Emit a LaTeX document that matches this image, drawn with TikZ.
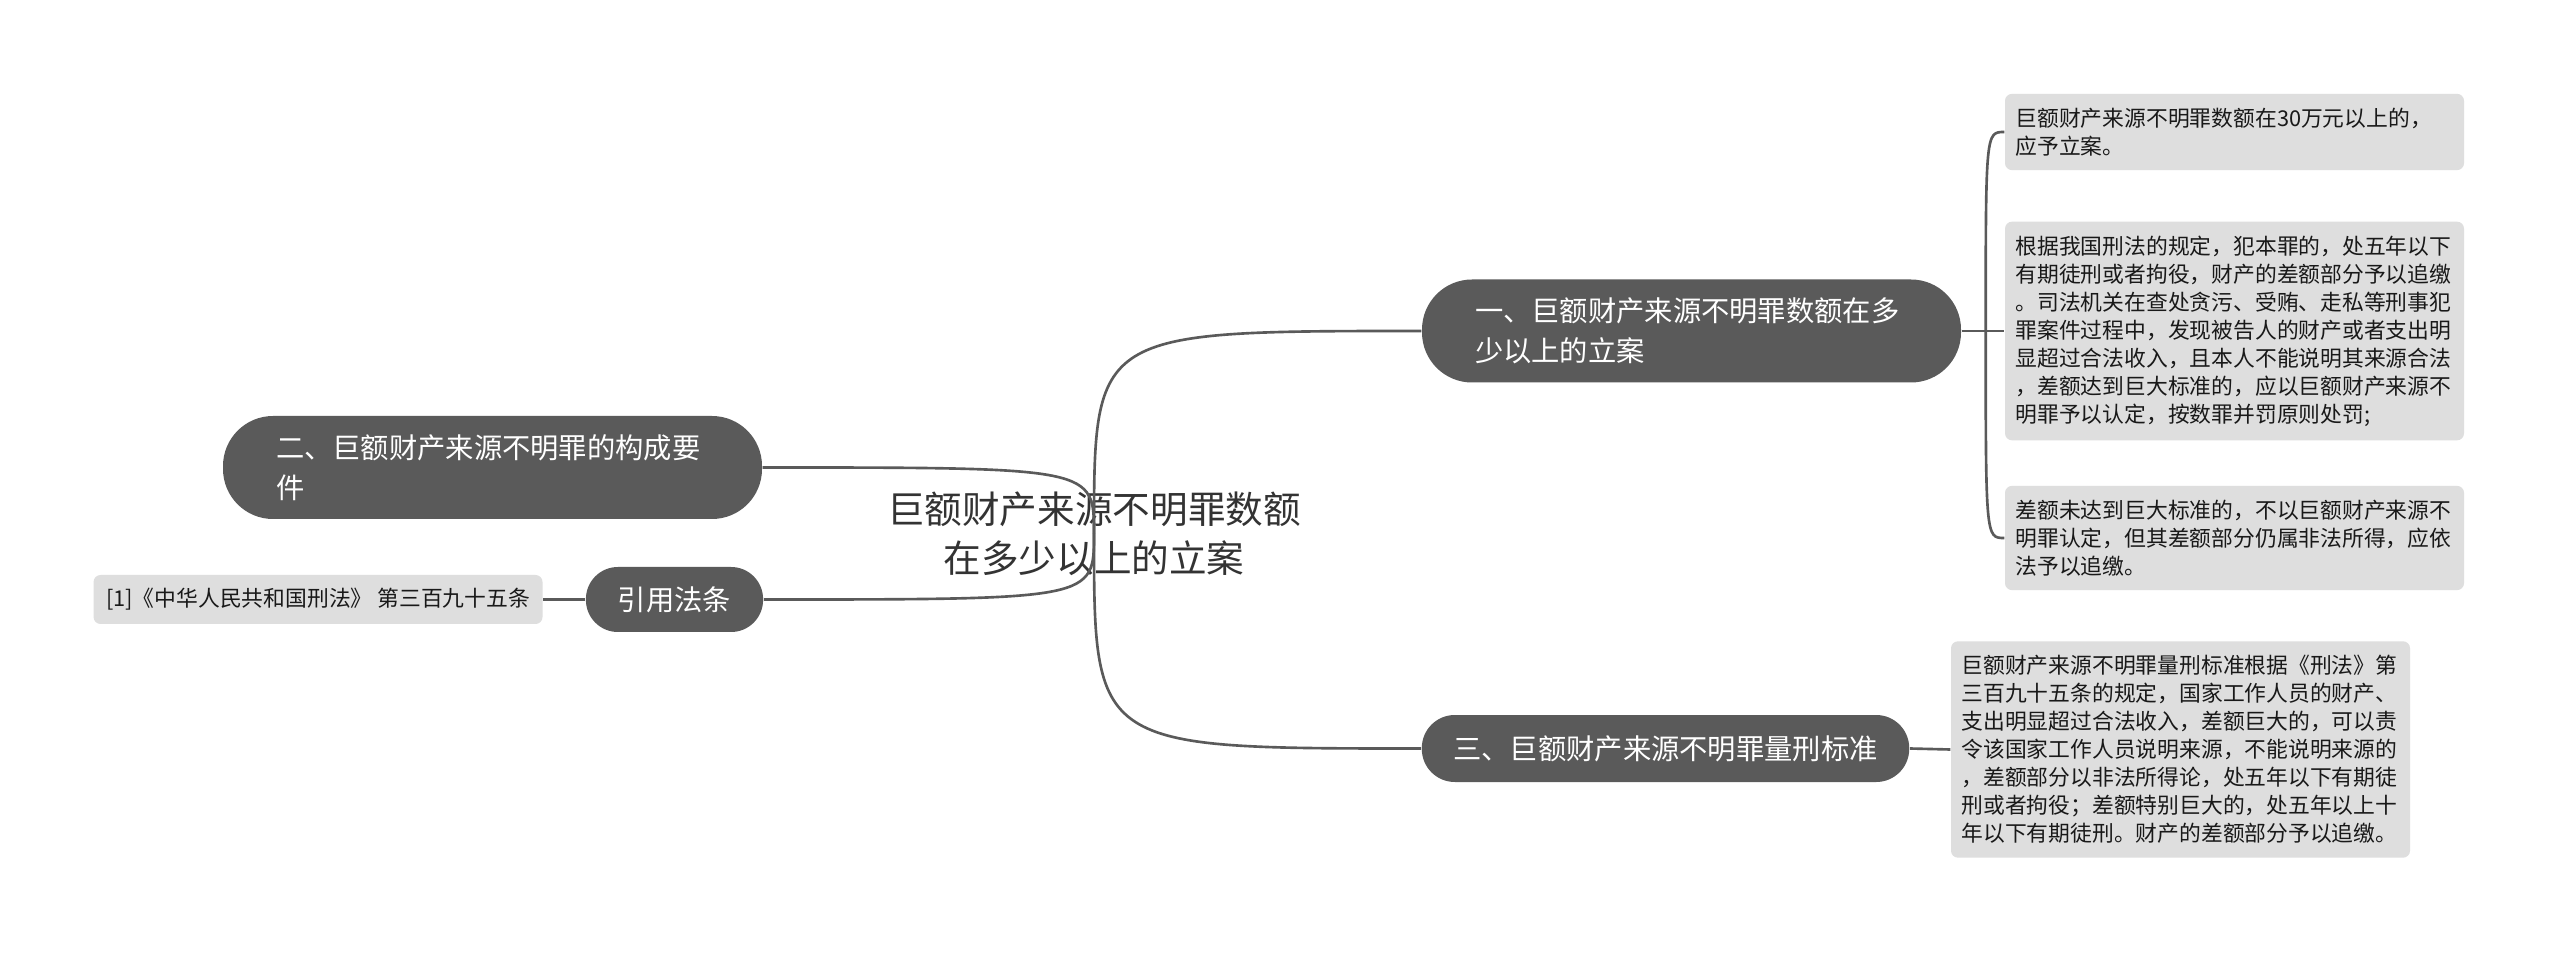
\documentclass[tikz,border=0pt]{standalone}
\usepackage{fontspec}
\setmainfont{Noto Sans CJK SC}
\usetikzlibrary{positioning}
\definecolor{topicgray}{HTML}{5A5A5A}
\definecolor{leafgray}{HTML}{DEDEDE}
\definecolor{rootink}{HTML}{333333}

\begin{document}
\begin{tikzpicture}[
    link/.style={draw=topicgray, line width=0.75pt},
    topic/.style={fill=topicgray, text=white, align=left, inner ysep=0pt,
      font=\fontsize{8.05}{11.4}\selectfont},
    leaf/.style={fill=leafgray, text=black!90, align=left, inner xsep=0.105cm,
      inner ysep=0.14cm, rounded corners=0.07cm, font=\fontsize{6.2}{7.97}\selectfont},
  ]
  \useasboundingbox[fill=white] (0,0) rectangle (25.6,-9.53);

  % centre
  \node[text=rootink, align=center, font=\fontsize{10.7}{13.9}\selectfont] (root) at (10.94,-5.34)
    {巨额财产来源不明罪数额\\在多少以上的立案};

  % main topics
  \node[topic, text width=4.33cm, inner xsep=0.53cm, minimum height=1.03cm, rounded corners=0.5cm] (t1) at (16.915,-3.31)
    {一、巨额财产来源不明罪数额在多\\少以上的立案};
  \node[topic, text width=4.33cm, inner xsep=0.53cm, minimum height=1.03cm, rounded corners=0.5cm] (t2) at (4.925,-4.675)
    {二、巨额财产来源不明罪的构成要\\件};
  \node[topic, inner xsep=0.32cm, minimum height=0.65cm, rounded corners=0.32cm] (cite) at (6.745,-5.995) {引用法条};
  \node[topic, inner xsep=0.315cm, minimum height=0.67cm, rounded corners=0.33cm] (t3) at (16.655,-7.485)
    {三、巨额财产来源不明罪量刑标准};

  % details
  \node[leaf, text width=4.38cm] (l1a) at (22.345,-1.32)
    {巨额财产来源不明罪数额在30万元以上的，\\应予立案。};
  \node[leaf, text width=4.38cm] (l1b) at (22.345,-3.31)
    {根据我国刑法的规定，犯本罪的，处五年以下\\有期徒刑或者拘役，财产的差额部分予以追缴\\。司法机关在查处贪污、受贿、走私等刑事犯\\罪案件过程中，发现被告人的财产或者支出明\\显超过合法收入，且本人不能说明其来源合法\\，差额达到巨大标准的，应以巨额财产来源不\\明罪予以认定，按数罪并罚原则处罚;};
  \node[leaf, text width=4.38cm] (l1c) at (22.345,-5.38)
    {差额未达到巨大标准的，不以巨额财产来源不\\明罪认定，但其差额部分仍属非法所得，应依\\法予以追缴。};
  \node[leaf, text width=4.38cm] (l3) at (21.805,-7.495)
    {巨额财产来源不明罪量刑标准根据《刑法》第\\三百九十五条的规定，国家工作人员的财产、\\支出明显超过合法收入，差额巨大的，可以责\\令该国家工作人员说明来源，不能说明来源的\\，差额部分以非法所得论，处五年以下有期徒\\刑或者拘役；差额特别巨大的，处五年以上十\\年以下有期徒刑。财产的差额部分予以追缴。};
  \node[leaf, left=0.42cm of cite, inner xsep=0.125cm, minimum height=0.49cm, inner ysep=0pt] (ref)
    {[1]《中华人民共和国刑法》 第三百九十五条};

  % links
  \draw[link] (root.center) .. controls (root.center |- t1.west) .. (t1.west);
  \draw[link] (root.center) .. controls (root.center |- t3.west) .. (t3.west);
  \draw[link] (t2.east) .. controls (root.center |- t2.east) .. (root.center);
  \draw[link] (cite.east) .. controls (root.center |- cite.east) .. (root.center);
  \draw[link] (cite.west) -- (ref.east);
  \draw[link] (t3.east) -- (l3.west);
  \coordinate (j1) at ([xshift=0.24cm]t1.east);
  \draw[link] (t1.east) -- (l1b.west);
  \draw[link] (j1) .. controls (j1 |- l1a.west) .. (l1a.west);
  \draw[link] (j1) .. controls (j1 |- l1c.west) .. (l1c.west);
\end{tikzpicture}
\end{document}
